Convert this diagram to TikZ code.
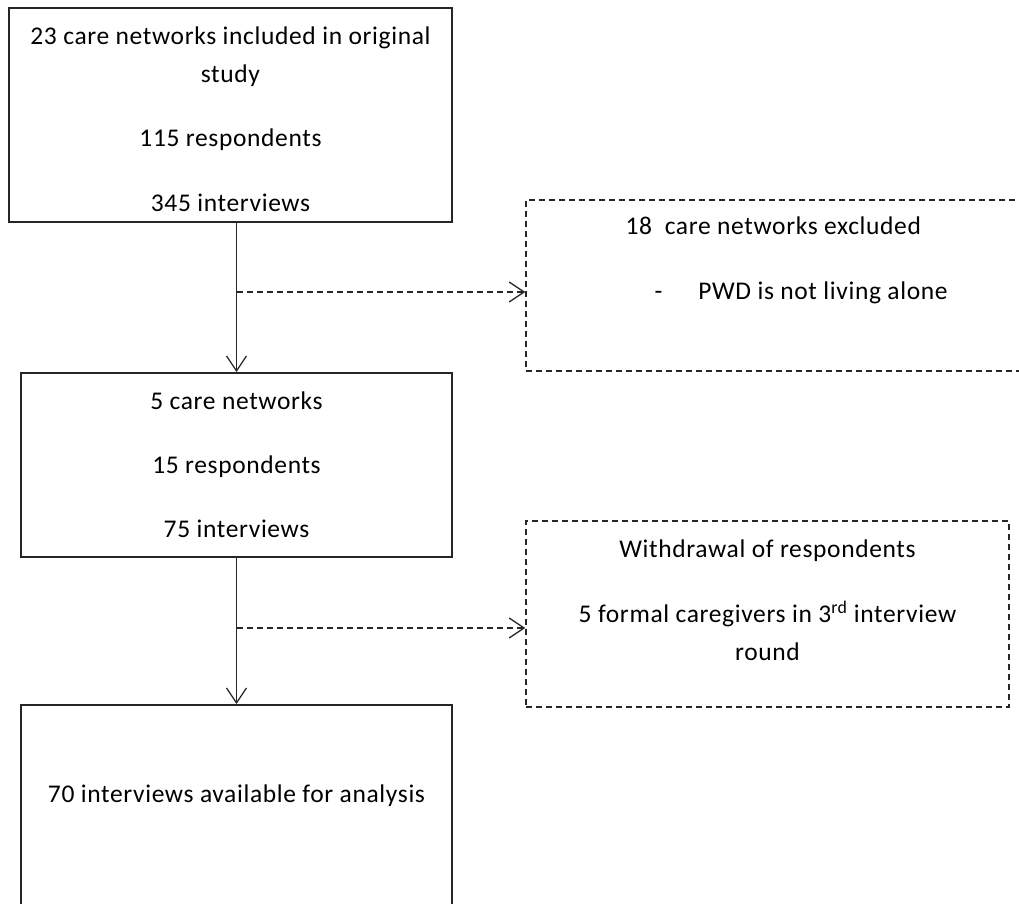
\documentclass[tikz,border=0pt]{standalone}
\usepackage{fontspec}
\setmainfont{Carlito}[LetterSpace=2.5]
\usepackage{tikz}
\usetikzlibrary{arrows.meta,positioning}
\newcommand{\boxfont}{\fontsize{25.5}{38}\selectfont}
\tikzstyle{arrow} = [line width=1.3pt, draw=black!85, -{Straight Barb[length=15pt,width=20pt]}]
\tikzstyle{dasharrow} = [arrow, dash pattern=on 6pt off 4pt]
\tikzstyle{solidbox} = [draw=black!85, line width=1.8pt, rectangle, inner sep=0pt]
\tikzstyle{dashbox} = [draw=black!85, line width=1.4pt, dash pattern=on 6pt off 4pt, rectangle, inner sep=0pt]
\tikzstyle{txt} = [align=center, inner sep=0pt, font=\boxfont]

\begin{document}
\begin{tikzpicture}[x=1pt, y=-1pt]
            \clip (0,0) rectangle (1019,903);
            % boxes
            \node[solidbox, minimum width=443pt, minimum height=214pt] (orig) at (230.5,115) {};
            \node[dashbox, minimum width=504pt, minimum height=171pt] (excl) at (778,285.5) {};
            \node[solidbox, minimum width=431pt, minimum height=184pt] (sel) at (236.5,465) {};
            \node[dashbox, minimum width=483pt, minimum height=186pt] (withdr) at (767.5,614) {};
            \node[solidbox, minimum width=431pt, minimum height=215pt] (final) at (236.5,812.5) {};
            % texts
            \node[txt, below=19pt of orig.north] (origtxt) {23 care networks included in original\\ study\\[26.5pt] 115 respondents\\[26.5pt] 345 interviews};
            \node[txt, align=left, below right=17pt and 100pt of excl.north west] (excltxt) {18\ \ care networks excluded\\[27pt] \hspace*{29pt}-\hspace{36pt}PWD is not living alone};
            \node[txt, below=19pt of sel.north] (seltxt) {5 care networks\\[26pt] 15 respondents\\[26pt] 75 interviews};
            \node[txt, below=19pt of withdr.north] (withdrtxt) {Withdrawal of respondents\\[27pt] 5 formal caregivers in 3\textsuperscript{rd} interview\\ round};
            \node[txt, below=80pt of final.north] (finaltxt) {70 interviews available for analysis};
            % connectors
            \coordinate (split1) at (236.5,292);
            \coordinate (split2) at (236.5,628);
            \draw[arrow] (sel.north |- orig.south) -- (sel.north);
            \draw[arrow] (sel.south) -- (final.north);
            \draw[dasharrow] (split1) -- (split1 -| excl.west);
            \draw[dasharrow] (split2) -- (split2 -| withdr.west);
        \end{tikzpicture}
\end{document}
